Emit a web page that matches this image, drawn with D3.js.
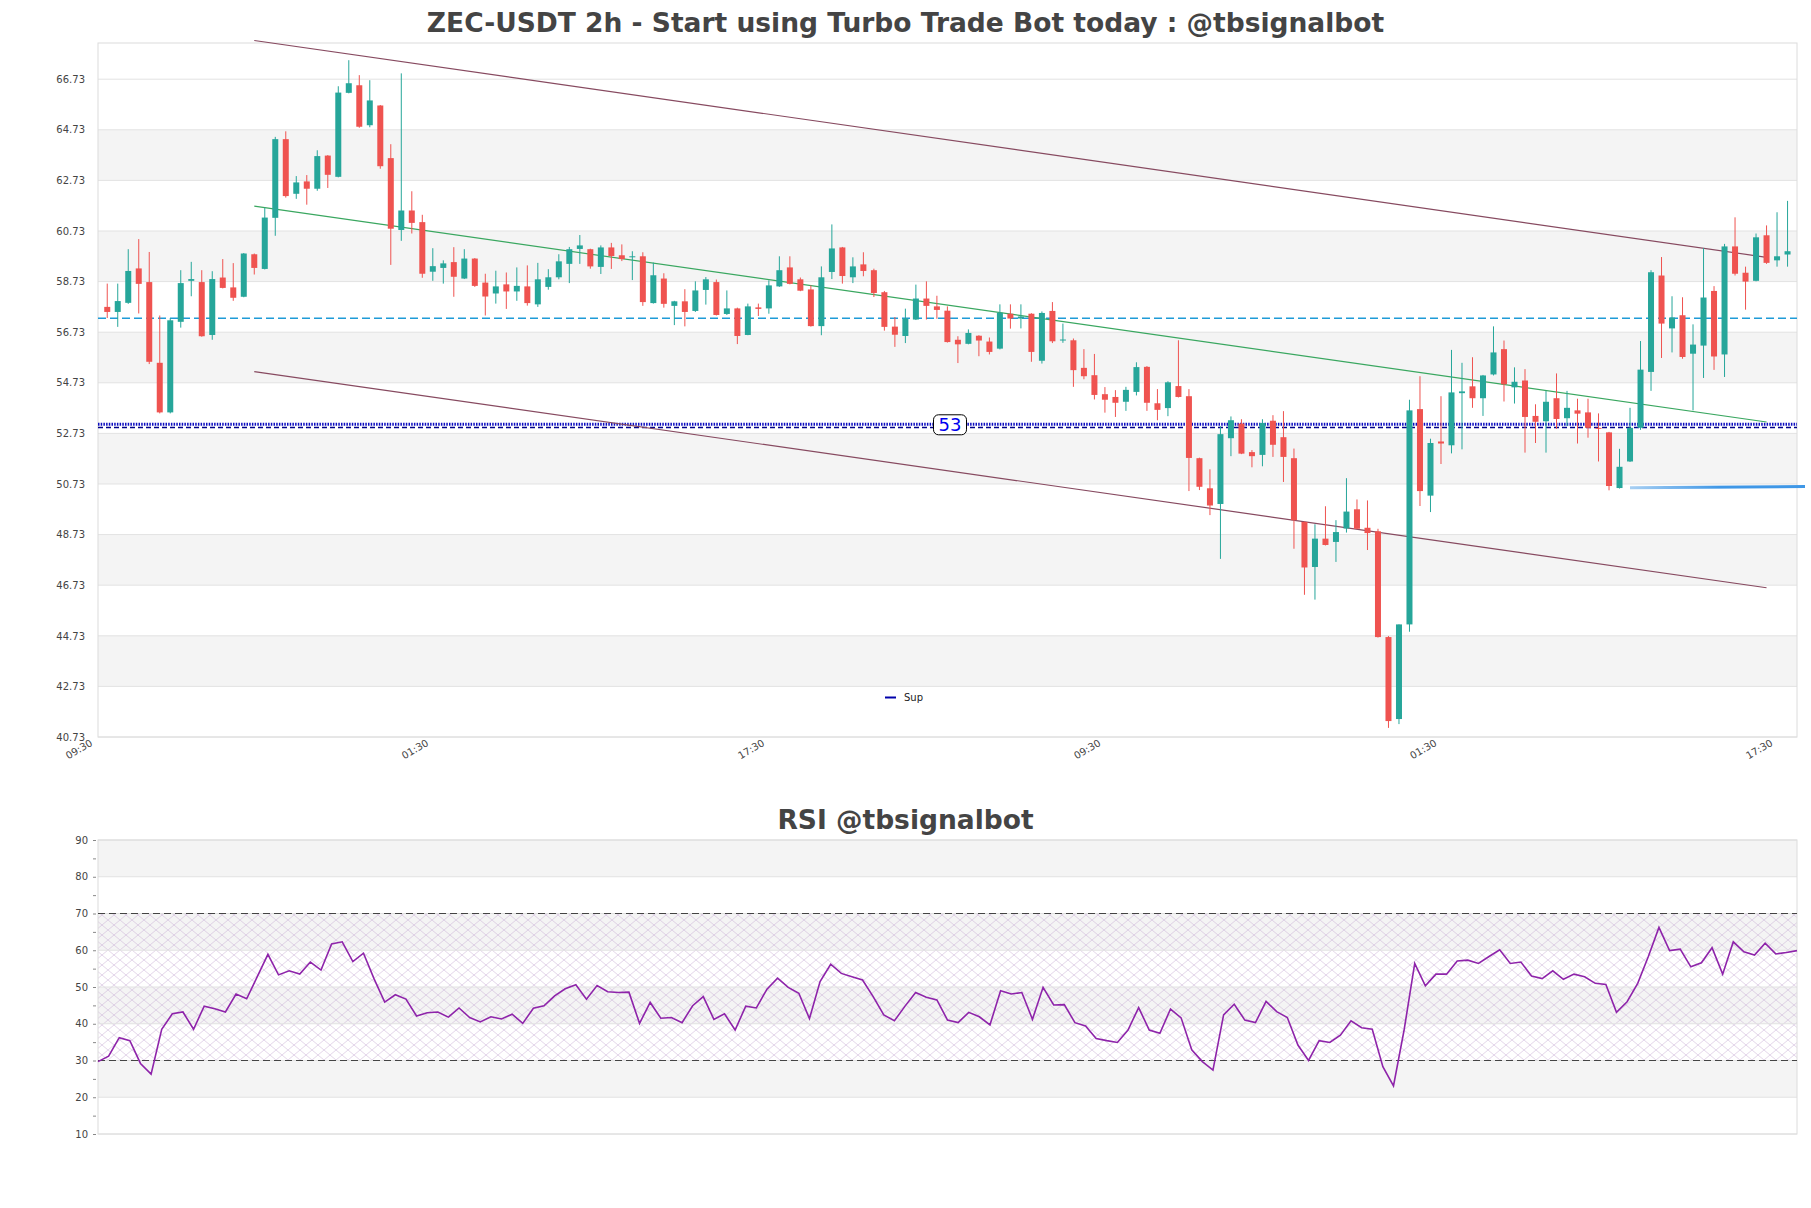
<!DOCTYPE html>
<html>
<head>
<meta charset="utf-8">
<script src="https://cdn.jsdelivr.net/npm/d3@7"></script>
<style>
  body { margin: 0; background: #fff; }
  svg { display: block; font-family: "DejaVu Sans", sans-serif; }
</style>
</head>
<body>
<svg id="chart"></svg>
<script>
// candles (2h)
const open = [57.73,57.53,57.89,59.25,58.71,55.52,53.56,57.14,58.76,58.71,56.62,58.89,58.50,58.13,59.81,59.23,61.25,64.36,62.20,62.69,
  62.40,63.71,62.87,66.19,66.49,64.91,65.69,63.61,60.77,61.54,61.08,59.12,59.27,59.50,58.85,59.64,58.69,58.26,58.62,58.34,
  58.54,57.83,58.52,58.90,59.43,60.02,60.01,59.31,60.08,59.77,59.69,59.73,57.88,58.85,57.77,57.95,57.57,58.40,58.71,57.45,
  57.67,56.62,57.71,57.67,58.54,59.29,58.82,58.42,56.97,59.11,60.08,58.90,59.41,59.18,58.31,56.95,56.58,57.23,58.06,57.75,
  57.58,56.43,56.27,56.59,56.36,56.08,57.46,57.27,57.46,55.60,57.57,56.41,56.41,55.32,55.03,54.28,54.17,53.98,54.37,55.36,
  53.92,53.73,54.60,54.20,51.75,50.56,49.94,52.54,53.12,51.99,51.88,53.23,52.58,51.75,49.23,47.45,48.57,48.44,48.97,49.73,
  49.00,48.86,44.68,41.44,45.18,53.69,50.27,52.41,52.26,54.32,54.59,54.12,55.06,56.06,54.55,54.82,53.42,53.21,54.12,53.33,
  53.64,53.56,52.95,52.77,50.57,51.62,52.95,55.16,58.97,56.88,57.40,55.88,56.20,58.36,55.85,60.12,59.08,58.76,60.56,59.57,
  59.80];
const high = [58.65,58.65,60.01,60.41,59.90,57.39,57.29,59.18,59.51,59.18,59.14,59.62,59.46,59.86,59.84,61.65,64.45,64.67,62.90,62.94,
  63.92,63.73,66.45,67.48,66.89,66.69,65.71,64.16,66.96,62.30,61.37,60.05,59.57,60.09,60.01,59.66,59.04,59.16,59.09,59.29,
  59.37,59.47,59.22,59.81,60.10,60.57,60.03,60.16,60.26,60.20,59.93,59.89,59.48,59.06,57.97,58.43,58.74,58.91,58.81,58.38,
  57.70,57.86,57.86,58.78,59.73,59.73,58.89,58.58,59.33,60.99,60.10,59.69,59.89,59.24,58.36,57.33,57.66,58.61,58.74,58.17,
  57.75,56.57,56.84,56.61,56.52,57.83,57.83,57.83,57.48,57.55,57.92,57.07,56.48,56.06,55.87,54.56,54.44,54.57,55.54,55.39,
  54.48,54.79,56.41,54.48,51.77,51.31,53.01,53.40,53.29,52.07,53.29,53.45,53.61,52.13,49.25,49.14,49.85,49.30,50.96,50.12,
  50.08,48.96,44.72,45.18,54.06,54.99,52.52,54.20,56.03,55.52,55.74,55.04,56.96,56.40,55.34,55.27,53.88,54.41,55.10,54.41,
  54.10,54.10,53.52,52.79,52.12,53.74,56.38,59.18,59.70,58.15,58.11,57.04,60.05,58.55,60.22,61.27,59.32,60.63,60.95,61.47,
  61.92];
const low = [57.29,56.94,57.85,57.47,55.47,53.52,53.52,56.91,58.15,56.55,56.43,58.46,57.97,58.11,59.01,59.21,60.54,62.05,62.00,61.77,
  62.32,62.43,62.85,66.17,64.81,64.83,63.19,59.39,60.34,60.63,58.88,58.76,58.65,58.13,58.83,58.52,57.39,57.86,57.65,57.97,
  57.78,57.73,58.41,58.82,58.67,59.43,59.24,59.03,59.23,59.54,58.79,57.77,57.86,57.70,57.01,56.96,57.53,57.82,57.39,57.41,
  56.26,56.61,57.37,57.46,58.52,58.62,58.35,56.95,56.61,58.83,58.65,58.67,58.94,58.12,56.79,56.15,56.30,57.21,57.23,57.26,
  56.32,55.51,56.25,55.78,55.85,56.05,56.87,56.88,55.56,55.49,56.30,56.31,54.57,54.87,54.07,53.55,53.38,53.62,54.23,53.62,
  53.25,53.41,54.15,50.45,50.49,49.50,47.77,51.83,51.91,51.39,51.43,51.80,50.81,48.17,46.35,46.16,48.30,47.65,48.81,48.94,
  48.12,44.66,41.09,41.24,44.89,49.86,49.62,51.52,51.94,52.10,53.74,53.42,55.02,53.99,53.91,51.97,52.35,51.97,52.91,53.02,
  52.33,52.56,51.62,50.48,50.55,51.60,52.87,54.41,55.71,55.93,55.68,53.64,54.92,55.24,54.96,58.97,57.62,58.74,59.43,59.32,
  59.32];
const close = [57.53,57.96,59.15,58.64,55.56,53.56,57.20,58.67,58.83,56.57,58.83,58.48,58.09,59.84,59.27,61.26,64.36,62.11,62.65,62.40,
  63.69,62.95,66.20,66.57,64.85,65.89,63.29,60.82,61.54,61.05,59.04,59.34,59.45,58.92,59.64,58.56,58.14,58.54,58.34,58.56,
  57.88,58.82,58.90,59.53,60.01,60.16,59.33,60.08,59.74,59.62,59.73,57.92,58.98,57.85,57.95,57.53,58.38,58.82,57.41,57.67,
  56.58,57.75,57.65,58.58,59.18,58.64,58.37,56.97,58.90,60.04,58.95,59.33,59.15,58.28,56.94,56.63,57.27,58.06,57.77,57.61,
  56.34,56.25,56.70,56.40,55.95,57.50,57.27,57.35,55.95,57.49,56.37,56.44,55.23,54.99,54.25,54.06,53.94,54.45,55.35,53.94,
  53.66,54.75,54.17,51.76,50.62,49.88,52.70,53.25,51.93,51.83,53.14,52.28,51.80,49.30,47.43,48.57,48.32,48.83,49.64,48.96,
  48.79,44.68,41.36,45.18,53.64,50.45,52.35,52.33,54.35,54.39,54.12,55.02,55.93,54.67,54.77,53.38,53.19,53.98,53.30,53.74,
  53.51,52.95,52.91,50.65,51.41,52.95,55.25,59.10,57.07,57.31,55.75,56.24,58.10,55.77,60.12,59.04,58.73,60.48,59.47,59.73,
  59.93];

const rsi = [29.7,31.2,36.2,35.4,29.2,26.3,38.5,42.7,43.2,38.5,
  44.8,44.1,43.2,48.1,46.8,52.8,58.9,53.3,54.4,53.5,
  56.8,54.6,61.7,62.3,56.9,59.2,52.2,45.9,47.9,46.7,
  42.1,43.0,43.2,41.8,44.3,41.7,40.5,41.9,41.3,42.6,
  40.1,44.2,44.9,47.6,49.5,50.6,46.7,50.4,48.7,48.5,
  48.6,40.1,45.8,41.5,41.7,40.3,44.9,47.4,41.2,42.7,
  38.3,44.8,44.3,49.4,52.4,49.9,48.3,41.4,51.5,56.2,
  53.7,52.8,51.9,47.4,42.4,40.8,44.8,48.5,47.2,46.5,
  41.0,40.3,43.1,41.9,39.7,49.0,48.1,48.5,41.2,49.9,
  45.1,45.2,40.3,39.4,36.0,35.4,34.9,38.3,44.4,38.3,
  37.4,44.0,41.6,32.9,29.7,27.4,42.4,45.3,41.0,40.3,
  46.1,43.3,41.7,34.2,30.0,35.4,34.9,36.9,40.8,38.9,
  38.5,28.3,23.1,38.3,56.4,50.3,53.5,53.5,57.1,57.3,
  56.4,58.3,60.1,56.4,56.8,53.0,52.3,54.4,52.1,53.5,
  52.8,51.0,50.7,43.1,46.0,51.0,58.3,66.2,59.9,60.3,
  55.5,56.6,60.7,53.5,62.3,59.6,58.7,61.9,59.0,59.4,
  59.9];

const tickIdx = [-1, 31, 63, 95, 127, 159];
const tickLabels = ["09:30", "01:30", "17:30", "09:30", "01:30", "17:30"];
const priceTicks = [40.73, 42.73, 44.73, 46.73, 48.73, 50.73, 52.73, 54.73, 56.73, 58.73, 60.73, 62.73, 64.73, 66.73];
const rsiTicks = [10, 20, 30, 40, 50, 60, 70, 80, 90];

// channel (start / end candle, price at each end)
const channelIdx = [14, 158];
const upperLine = [68.26, 59.69];
const midLine = [61.71, 53.18];
const lowerLine = [55.17, 46.63];

const resistance = 57.28;
const supDotted = 53.09;
const supDashed = 52.96;
const supLabel = "53";
const blueIdx = [145, 161.66];
const bluePrice = [50.58, 50.63];

const W = 1811, H = 1208;
const main = { left: 98, right: 1797, top: 43, bottom: 737 };
const sub = { left: 98, right: 1797, top: 840, bottom: 1134 };

const svg = d3.select("#chart").attr("width", W).attr("height", H);
svg.append("rect").attr("width", W).attr("height", H).attr("fill", "#fff");

const defs = svg.append("defs");
const hatch = defs.append("pattern").attr("id", "hatch")
  .attr("width", 12).attr("height", 10).attr("patternUnits", "userSpaceOnUse");
hatch.append("path").attr("d", "M0,0L12,10M12,0L0,10")
  .attr("stroke", "#c4a8d2").attr("stroke-width", 0.6).attr("fill", "none");
const grad = defs.append("linearGradient").attr("id", "blueFade")
  .attr("gradientUnits", "userSpaceOnUse").attr("x1", 1629).attr("x2", 1720).attr("y1", 0).attr("y2", 0);
grad.append("stop").attr("offset", 0).attr("stop-color", "#a9d0f3");
grad.append("stop").attr("offset", 1).attr("stop-color", "#3f97e6");

// scales
const x = d3.scaleLinear().domain([-0.88, 160.9]).range([main.left, main.right]);
const y = d3.scaleLinear().domain([40.73, 68.16]).range([main.bottom, main.top]);
const xr = d3.scaleLinear().domain([0, rsi.length - 1]).range([sub.left, sub.right]);
const yr = d3.scaleLinear().domain([10, 90]).range([sub.bottom, sub.top]);

// titles
svg.append("text").attr("x", W / 2).attr("y", 32).attr("text-anchor", "middle")
  .attr("font-size", 26.5).attr("font-weight", "bold").attr("fill", "#444")
  .text("ZEC-USDT 2h - Start using Turbo Trade Bot today : @tbsignalbot");
svg.append("text").attr("x", W / 2).attr("y", 829).attr("text-anchor", "middle")
  .attr("font-size", 26.5).attr("font-weight", "bold").attr("fill", "#444")
  .text("RSI @tbsignalbot");

// ---- main chart ----
const g = svg.append("g");
const bandIdx = d3.range(1, priceTicks.length - 1, 2);
g.selectAll("rect.band").data(bandIdx).join("rect").attr("class", "band")
  .attr("x", main.left).attr("width", main.right - main.left)
  .attr("y", (j) => y(priceTicks[j + 1]))
  .attr("height", (j) => y(priceTicks[j]) - y(priceTicks[j + 1]))
  .attr("fill", "#f4f4f4");
g.selectAll("line.grid").data(priceTicks).join("line").attr("class", "grid")
  .attr("x1", main.left).attr("x2", main.right)
  .attr("y1", (d) => y(d)).attr("y2", (d) => y(d))
  .attr("stroke", "#e2e2e2");
g.append("rect").attr("x", main.left).attr("y", main.top)
  .attr("width", main.right - main.left).attr("height", main.bottom - main.top)
  .attr("fill", "none").attr("stroke", "#dcdcdc");

// y axis labels
const yAxis = g.append("g").attr("transform", `translate(${main.left - 10},0)`)
  .call(d3.axisLeft(y).tickValues(priceTicks).tickFormat(d3.format(".2f")).tickSize(0));
yAxis.select(".domain").remove();
yAxis.selectAll("text").attr("font-size", 10).attr("fill", "#444").attr("font-family", "DejaVu Sans");

// x axis labels
const xAxis = g.append("g").attr("transform", `translate(0,${main.bottom})`)
  .call(d3.axisBottom(x).tickValues(tickIdx).tickFormat((d, i) => tickLabels[i]).tickSize(0));
xAxis.select(".domain").remove();
xAxis.selectAll("text").attr("font-size", 10).attr("fill", "#444").attr("font-family", "DejaVu Sans")
  .attr("text-anchor", "end").attr("dy", null).attr("y", null)
  .attr("transform", "translate(-4,8) rotate(-30)");

// horizontal levels
g.append("line").attr("x1", main.left).attr("x2", main.right)
  .attr("y1", y(resistance)).attr("y2", y(resistance))
  .attr("stroke", "#1f9bd7").attr("stroke-width", 1.5).attr("stroke-dasharray", "8,4");
g.append("line").attr("x1", main.left).attr("x2", main.right)
  .attr("y1", y(supDashed)).attr("y2", y(supDashed))
  .attr("stroke", "#00008b").attr("stroke-width", 1.5).attr("stroke-dasharray", "5,3");
g.append("line").attr("x1", main.left).attr("x2", main.right)
  .attr("y1", y(supDotted)).attr("y2", y(supDotted))
  .attr("stroke", "#0c0cc0").attr("stroke-width", 3).attr("stroke-dasharray", "1.5,1.2");

// channel
const chan = [
  { v: upperLine, c: "#874a60" },
  { v: lowerLine, c: "#874a60" },
  { v: midLine, c: "#3aa760" },
];
g.selectAll("line.chan").data(chan).join("line").attr("class", "chan")
  .attr("x1", x(channelIdx[0])).attr("x2", x(channelIdx[1]))
  .attr("y1", (d) => y(d.v[0])).attr("y2", (d) => y(d.v[1]))
  .attr("stroke", (d) => d.c).attr("stroke-width", 1.2);

// candles
const idx = d3.range(open.length);
const up = "#26a69a", down = "#ef5350";
const col = (i) => (close[i] >= open[i] ? up : down);
g.selectAll("line.wick").data(idx).join("line").attr("class", "wick")
  .attr("x1", (i) => x(i)).attr("x2", (i) => x(i))
  .attr("y1", (i) => y(high[i])).attr("y2", (i) => y(low[i]))
  .attr("stroke", col).attr("stroke-width", 1);
g.selectAll("rect.body").data(idx).join("rect").attr("class", "body")
  .attr("x", (i) => x(i) - 3).attr("width", 6)
  .attr("y", (i) => y(Math.max(open[i], close[i])))
  .attr("height", (i) => Math.max(1, Math.abs(y(open[i]) - y(close[i]))))
  .attr("fill", col);

// blue line
g.append("line").attr("x1", x(blueIdx[0])).attr("x2", x(blueIdx[1]))
  .attr("y1", y(bluePrice[0])).attr("y2", y(bluePrice[1]))
  .attr("stroke", "url(#blueFade)").attr("stroke-width", 3);

// support label
const lx = 950, ly = y(supDotted) + 0.5;
g.append("rect").attr("x", lx - 16.5).attr("y", ly - 10).attr("width", 33).attr("height", 20)
  .attr("rx", 5).attr("fill", "#fff").attr("stroke", "#000").attr("stroke-width", 1);
g.append("text").attr("x", lx).attr("y", ly + 6.5).attr("text-anchor", "middle")
  .attr("font-size", 18).attr("fill", "#0000ee").text(supLabel);

// legend
g.append("line").attr("x1", 885).attr("x2", 896).attr("y1", 697.5).attr("y2", 697.5)
  .attr("stroke", "#0000aa").attr("stroke-width", 2);
g.append("text").attr("x", 904).attr("y", 701).attr("font-size", 10).attr("fill", "#222").text("Sup");

// ---- RSI ----
const r = svg.append("g");
const rBand = d3.range(1, rsiTicks.length - 1, 2);
r.selectAll("rect.band").data(rBand).join("rect").attr("class", "band")
  .attr("x", sub.left).attr("width", sub.right - sub.left)
  .attr("y", (j) => yr(rsiTicks[j + 1]))
  .attr("height", (j) => yr(rsiTicks[j]) - yr(rsiTicks[j + 1]))
  .attr("fill", "#f4f4f4");
r.append("rect").attr("x", sub.left).attr("width", sub.right - sub.left)
  .attr("y", yr(70)).attr("height", yr(30) - yr(70))
  .attr("fill", "url(#hatch)").attr("opacity", 0.8);
r.selectAll("line.grid").data(rsiTicks).join("line").attr("class", "grid")
  .attr("x1", sub.left).attr("x2", sub.right)
  .attr("y1", (d) => yr(d)).attr("y2", (d) => yr(d))
  .attr("stroke", "#e2e2e2");
r.append("rect").attr("x", sub.left).attr("y", sub.top)
  .attr("width", sub.right - sub.left).attr("height", sub.bottom - sub.top)
  .attr("fill", "none").attr("stroke", "#dcdcdc");
r.selectAll("line.lvl").data([70, 30]).join("line").attr("class", "lvl")
  .attr("x1", sub.left).attr("x2", sub.right)
  .attr("y1", (d) => yr(d)).attr("y2", (d) => yr(d))
  .attr("stroke", "#444").attr("stroke-width", 1.2).attr("stroke-dasharray", "7,4");

// rsi y axis: minor ticks every 5, labels every 10
const rAxis = r.append("g").attr("transform", `translate(${sub.left - 2},0)`)
  .call(d3.axisLeft(yr).tickValues(d3.range(10, 91, 5)).tickSize(3)
    .tickFormat((d) => (d % 10 === 0 ? d : "")));
rAxis.select(".domain").remove();
rAxis.selectAll("line").attr("stroke", "#888");
rAxis.selectAll("text").attr("font-size", 10).attr("fill", "#444").attr("font-family", "DejaVu Sans").attr("x", -8);

r.append("path").datum(rsi)
  .attr("d", d3.line().x((d, i) => xr(i)).y((d) => yr(d)))
  .attr("fill", "none").attr("stroke", "#8e24aa").attr("stroke-width", 1.6);
</script>
</body>
</html>
